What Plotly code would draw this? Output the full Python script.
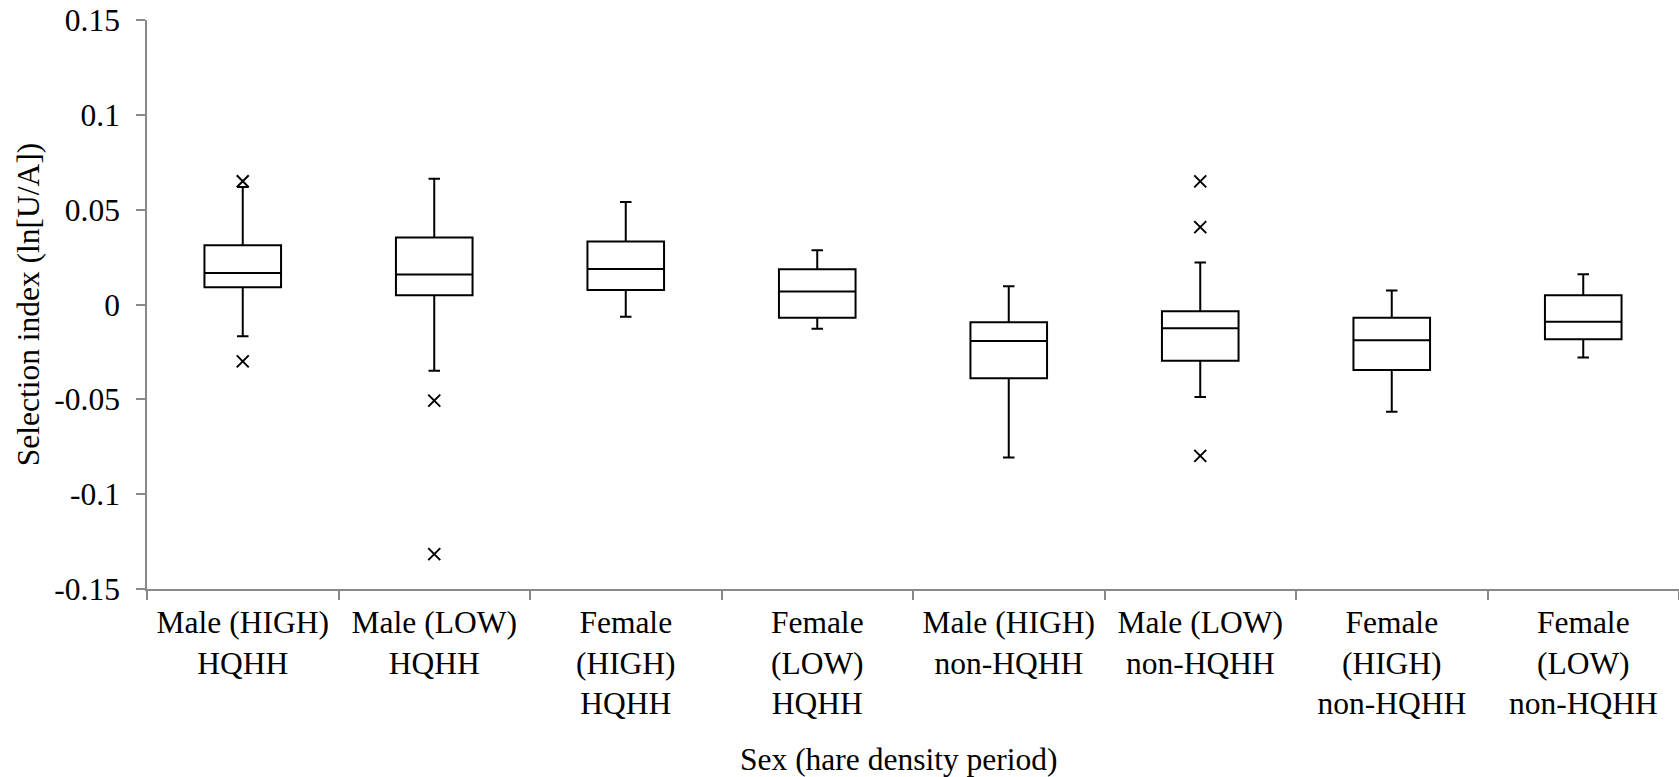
import plotly.graph_objects as go

categories = [
    "Male (HIGH)<br>HQHH",
    "Male (LOW)<br>HQHH",
    "Female<br>(HIGH)<br>HQHH",
    "Female<br>(LOW)<br>HQHH",
    "Male (HIGH)<br>non-HQHH",
    "Male (LOW)<br>non-HQHH",
    "Female<br>(HIGH)<br>non-HQHH",
    "Female<br>(LOW)<br>non-HQHH",
]
lower_whisker = [-0.0167, -0.0349, -0.0065, -0.0128, -0.0807, -0.0488, -0.0565, -0.0279]
q1 = [0.0091, 0.0049, 0.0077, -0.0070, -0.0389, -0.0297, -0.0346, -0.0183]
median = [0.0166, 0.0158, 0.0187, 0.0068, -0.0193, -0.0125, -0.0189, -0.0091]
q3 = [0.0312, 0.0353, 0.0332, 0.0186, -0.0093, -0.0035, -0.0070, 0.0049]
upper_whisker = [0.0619, 0.0663, 0.0540, 0.0286, 0.0096, 0.0221, 0.0074, 0.0160]

outlier_cat = [categories[0], categories[0], categories[1], categories[1],
               categories[5], categories[5], categories[5]]
outlier_val = [0.0650, -0.0300, -0.0507, -0.1316, 0.0649, 0.0408, -0.0798]

y_ticks = [0.15, 0.1, 0.05, 0, -0.05, -0.1, -0.15]
y_tick_labels = ["0.15", "0.1", "0.05", "0", "-0.05", "-0.1", "-0.15"]

FONT = "Liberation Serif"
FS = 31.5
AXIS_GREY = "#898989"

fig = go.Figure()
fig.add_trace(go.Box(
    x=categories,
    q1=q1, median=median, q3=q3,
    lowerfence=lower_whisker, upperfence=upper_whisker,
    boxpoints=False,
    width=0.4,
    whiskerwidth=0.15,
    line=dict(color="black", width=2),
    fillcolor="white",
    showlegend=False,
    hoverinfo="skip",
))
fig.add_trace(go.Scatter(
    x=outlier_cat, y=outlier_val,
    mode="markers",
    marker=dict(symbol="x-thin", size=12, color="black",
                line=dict(color="black", width=2)),
    showlegend=False,
    hoverinfo="skip",
))

fig.update_layout(
    template="none",
    width=1679, height=777,
    margin=dict(l=147, r=0, t=20, b=188),
    paper_bgcolor="white", plot_bgcolor="white",
    font=dict(family=FONT, size=FS, color="black"),
    xaxis=dict(
        type="category",
        categoryorder="array", categoryarray=categories,
        range=[-0.5, 7.5],
        tickson="boundaries",
        ticks="outside", ticklen=9, tickwidth=1.5, tickcolor=AXIS_GREY,
        showline=True, linecolor=AXIS_GREY, linewidth=1.5,
        showgrid=False, zeroline=False,
        tickfont=dict(family=FONT, size=FS, color="black"),
        ticklabelstandoff=4,
        fixedrange=True,
    ),
    yaxis=dict(
        range=[-0.15, 0.15],
        tickvals=y_ticks, ticktext=y_tick_labels,
        ticks="outside", ticklen=9, tickwidth=1.5, tickcolor=AXIS_GREY,
        showline=True, linecolor=AXIS_GREY, linewidth=1.5,
        showgrid=False, zeroline=False,
        tickfont=dict(family=FONT, size=FS, color="black"),
        ticklabelstandoff=10,
        title=dict(text="Selection index (ln[U/A])",
                   font=dict(family=FONT, size=FS, color="black"),
                   standoff=5),
        fixedrange=True,
    ),
    annotations=[dict(
        text="Sex (hare density period)",
        xref="paper", yref="paper",
        x=(898.5 - 147) / 1532, y=-(759 - 589) / 569,
        xanchor="center", yanchor="middle",
        showarrow=False,
        font=dict(family=FONT, size=FS, color="black"),
    )],
)

fig.write_html("out.html")
